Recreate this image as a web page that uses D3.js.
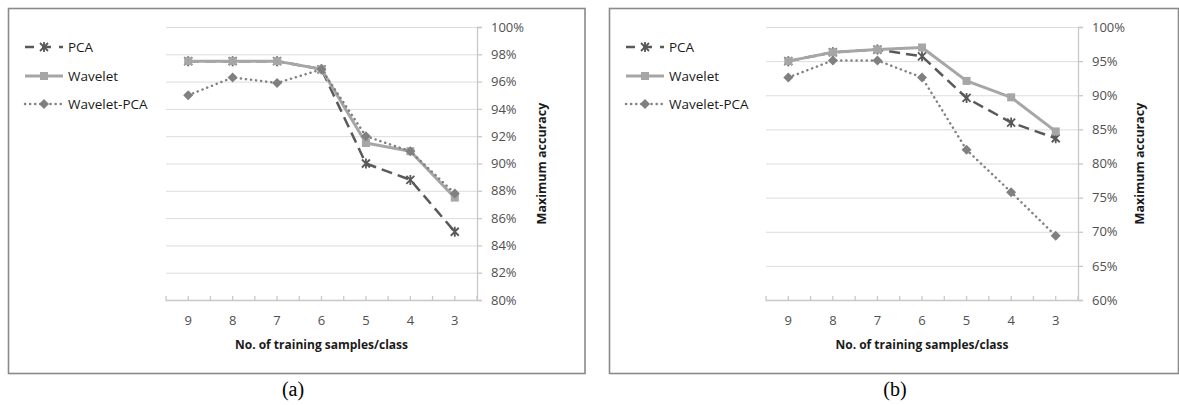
<!DOCTYPE html>
<html>
<head>
<meta charset="utf-8">
<script src="https://cdn.jsdelivr.net/npm/d3@7"></script>
<style>
  html, body { margin: 0; padding: 0; background: #fff; }
  svg { display: block; }
</style>
</head>
<body>
<svg id="chart" width="1179" height="405"></svg>
<script>
// ---- Data ----
const categories = ["9", "8", "7", "6", "5", "4", "3"];
const seriesNames = ["PCA", "Wavelet", "Wavelet-PCA"];

// Panel (a)
const pcaA        = [97.5, 97.5, 97.5, 96.9, 90.0, 88.8, 85.0];
const waveletA    = [97.5, 97.5, 97.5, 96.9, 91.5, 90.9, 87.5];
const waveletPcaA = [95.0, 96.3, 95.9, 96.9, 92.0, 90.9, 87.8];
const yTicksA = [80, 82, 84, 86, 88, 90, 92, 94, 96, 98, 100];

// Panel (b)
const pcaB        = [95.0, 96.3, 96.7, 95.7, 89.6, 86.0, 83.7];
const waveletB    = [95.0, 96.3, 96.7, 97.0, 92.1, 89.7, 84.7];
const waveletPcaB = [92.6, 95.1, 95.1, 92.6, 82.0, 75.8, 69.4];
const yTicksB = [60, 65, 70, 75, 80, 85, 90, 95, 100];

const xTitle = "No. of training samples/class";
const yTitle = "Maximum accuracy";
const captions = ["(a)", "(b)"];

// ---- Styles ----
const styles = {
  "PCA":         { color: "#595959", width: 2.5, dash: "11,6", marker: "x" },
  "Wavelet":     { color: "#a6a6a6", width: 3,   dash: null,   marker: "square" },
  "Wavelet-PCA": { color: "#808080", width: 2.5, dash: "0.1,5", marker: "diamond" }
};
const FONT = "'Open Sans', 'DejaVu Sans', sans-serif";

const svg = d3.select("#chart");
svg.append("rect").attr("width", 1179).attr("height", 405).attr("fill", "#fff");

function drawMarker(g, type, x, y, color) {
  if (type === "square") {
    g.append("rect").attr("x", x - 4).attr("y", y - 4).attr("width", 8).attr("height", 8)
      .attr("fill", color);
  } else if (type === "diamond") {
    g.append("path").attr("d", `M${x},${y-5}L${x+5},${y}L${x},${y+5}L${x-5},${y}Z`)
      .attr("fill", color);
  } else if (type === "x") {
    g.append("path").attr("d", `M${x-4},${y-4}L${x+4},${y+4}M${x-4},${y+4}L${x+4},${y-4}M${x},${y-5}L${x},${y+5}`)
      .attr("stroke", color).attr("stroke-width", 1.8).attr("fill", "none");
  }
}

function drawPanel(cfg) {
  const g = svg.append("g");
  // frame
  g.append("rect").attr("x", cfg.frame[0]).attr("y", 8.5)
    .attr("width", cfg.frame[1] - cfg.frame[0]).attr("height", 373.5 - 8.5)
    .attr("fill", "none").attr("stroke", "#8a8a8a").attr("stroke-width", 1.6);

  const x = d3.scaleBand().domain(categories).range([cfg.plotX0, cfg.plotX1]);
  const y = d3.scaleLinear().domain(cfg.yDomain).range([300, 27]);
  const cx = d => x(d) + x.bandwidth() / 2;

  // gridlines
  g.append("g").selectAll("line").data(cfg.yTicks.filter(t => t !== cfg.yDomain[0]))
    .join("line")
    .attr("x1", cfg.plotX0).attr("x2", cfg.plotX1)
    .attr("y1", d => y(d) + 0.5).attr("y2", d => y(d) + 0.5)
    .attr("stroke", "#dcdcdc").attr("stroke-width", 1);

  // right y axis
  const yAxis = d3.axisRight(y).tickValues(cfg.yTicks).tickSize(5).tickPadding(9)
    .tickFormat(d => d + "%");
  const ya = g.append("g").attr("transform", `translate(${cfg.plotX1},0)`).call(yAxis);
  ya.select(".domain").attr("stroke", "#c8c8c8").attr("stroke-width", 1.3);
  ya.selectAll(".tick line").attr("stroke", "#c8c8c8").attr("stroke-width", 1.3);
  ya.selectAll(".tick text").attr("font-family", FONT).attr("font-size", 13)
    .attr("fill", "#505050");

  // bottom x axis
  const axisY = y(cfg.yDomain[0]);
  g.append("line").attr("x1", cfg.plotX0).attr("x2", cfg.plotX1)
    .attr("y1", axisY + 0.5).attr("y2", axisY + 0.5)
    .attr("stroke", "#c8c8c8").attr("stroke-width", 1.3);
  const tickPos = [];
  categories.forEach(c => { tickPos.push(x(c)); tickPos.push(cx(c)); });
  tickPos.push(cfg.plotX1);
  g.append("g").selectAll("line").data(tickPos).join("line")
    .attr("x1", d => d).attr("x2", d => d)
    .attr("y1", axisY - 4).attr("y2", axisY + 1)
    .attr("stroke", "#c8c8c8").attr("stroke-width", 1.3);
  g.append("g").selectAll("text").data(categories).join("text")
    .attr("x", d => cx(d)).attr("y", 325)
    .attr("text-anchor", "middle").attr("font-family", FONT).attr("font-size", 13)
    .attr("fill", "#505050").text(d => d);

  // titles
  g.append("text").attr("x", (cfg.plotX0 + cfg.plotX1) / 2).attr("y", 349)
    .attr("text-anchor", "middle").attr("font-family", FONT).attr("font-size", 12)
    .attr("font-weight", "bold").attr("fill", "#1a1a1a").text(xTitle);
  g.append("text").attr("transform", `translate(${cfg.yTitleX},163.5) rotate(-90)`)
    .attr("text-anchor", "middle").attr("dy", "0.35em").attr("font-family", FONT)
    .attr("font-size", 12.5).attr("font-weight", "bold").attr("fill", "#1a1a1a").text(yTitle);

  // series
  const line = d3.line().x((d, i) => cx(categories[i])).y(d => y(d));
  cfg.series.forEach((vals, si) => {
    const st = styles[seriesNames[si]];
    const p = g.append("path").datum(vals).attr("d", line)
      .attr("fill", "none").attr("stroke", st.color).attr("stroke-width", st.width)
      .attr("stroke-linejoin", "round");
    if (st.dash) p.attr("stroke-dasharray", st.dash);
    if (seriesNames[si] === "Wavelet-PCA") p.attr("stroke-linecap", "round");
    vals.forEach((v, i) => drawMarker(g, st.marker, cx(categories[i]), y(v), st.color));
  });

  // legend
  seriesNames.forEach((name, i) => {
    const st = styles[name];
    const ly = [47, 76, 104][i];
    const lx0 = cfg.legendX, lx1 = cfg.legendX + 38;
    const p = g.append("line").attr("x1", lx0).attr("x2", lx1).attr("y1", ly).attr("y2", ly)
      .attr("stroke", st.color).attr("stroke-width", st.width);
    if (st.dash) p.attr("stroke-dasharray", name === "PCA" ? "9,8" : st.dash);
    if (name === "Wavelet-PCA") p.attr("stroke-linecap", "round");
    drawMarker(g, st.marker, (lx0 + lx1) / 2, ly, st.color);
    g.append("text").attr("x", lx1 + 5).attr("y", ly + 4.5)
      .attr("font-family", FONT).attr("font-size", 13.5).attr("fill", "#1a1a1a").text(name);
  });

  // caption
  svg.append("text").attr("x", cfg.captionX).attr("y", 396)
    .attr("text-anchor", "middle").attr("font-family", "'Liberation Serif', 'Times New Roman', serif")
    .attr("font-size", 20).attr("fill", "#000").text(cfg.caption);
}

drawPanel({
  frame: [8.5, 585],
  plotX0: 166, plotX1: 477,
  yDomain: [80, 100], yTicks: yTicksA,
  series: [pcaA, waveletA, waveletPcaA],
  yTitleX: 542, legendX: 25, captionX: 293, caption: captions[0]
});
drawPanel({
  frame: [609.5, 1178.5],
  plotX0: 766, plotX1: 1078,
  yDomain: [60, 100], yTicks: yTicksB,
  series: [pcaB, waveletB, waveletPcaB],
  yTitleX: 1140, legendX: 626, captionX: 895, caption: captions[1]
});
</script>
</body>
</html>
